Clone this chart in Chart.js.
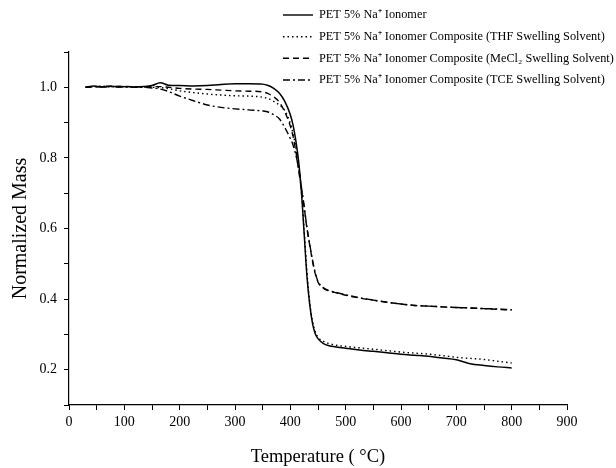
<!DOCTYPE html>
<html>
<head>
<meta charset="utf-8">
<script src="https://cdn.jsdelivr.net/npm/chart.js@4.4.1/dist/chart.umd.min.js"></script>
<style>
html,body{margin:0;padding:0;background:#fff;}
#wrap{width:616px;height:468px;}
</style>
</head>
<body>
<div id="wrap"><canvas id="c" width="616" height="468"></canvas></div>
<script>
const temperatures = [30, 45, 60, 75, 90, 105, 120, 135, 150, 165, 180, 200, 225, 250, 275, 300, 325, 350, 360, 370, 380, 390, 400, 405, 410, 415, 420, 425, 430, 435, 440, 445, 450, 460, 470, 480, 500, 525, 550, 575, 600, 625, 650, 675, 700, 725, 750, 775, 800];

const massIonomer = [1.000, 1.004, 1.001, 1.003, 1.001, 1.002, 1.001, 1.002, 1.005, 1.013, 1.006, 1.005, 1.004, 1.005, 1.008, 1.010, 1.010, 1.009, 1.005, 0.997, 0.984, 0.960, 0.922, 0.892, 0.848, 0.790, 0.705, 0.585, 0.465, 0.385, 0.332, 0.302, 0.288, 0.274, 0.268, 0.265, 0.261, 0.256, 0.252, 0.248, 0.244, 0.241, 0.238, 0.233, 0.228, 0.217, 0.212, 0.208, 0.205];

const massTHF = [1.000, 1.002, 1.003, 1.001, 1.002, 1.001, 1.002, 1.001, 1.000, 0.999, 0.996, 0.990, 0.985, 0.981, 0.978, 0.976, 0.975, 0.972, 0.968, 0.960, 0.950, 0.934, 0.898, 0.868, 0.830, 0.778, 0.705, 0.595, 0.478, 0.392, 0.338, 0.308, 0.292, 0.280, 0.274, 0.270, 0.266, 0.262, 0.258, 0.254, 0.250, 0.247, 0.244, 0.240, 0.235, 0.232, 0.229, 0.224, 0.219];

const massMeCl2 = [1.000, 1.001, 1.002, 1.003, 1.001, 1.002, 1.002, 1.001, 1.002, 1.002, 1.000, 0.997, 0.995, 0.994, 0.992, 0.990, 0.989, 0.987, 0.982, 0.973, 0.958, 0.930, 0.890, 0.860, 0.818, 0.765, 0.712, 0.660, 0.600, 0.553, 0.508, 0.472, 0.448, 0.430, 0.423, 0.419, 0.411, 0.403, 0.397, 0.391, 0.386, 0.382, 0.380, 0.378, 0.376, 0.375, 0.373, 0.371, 0.369];

const massTCE = [1.000, 1.002, 1.001, 1.002, 1.003, 1.001, 1.000, 1.000, 0.998, 0.995, 0.988, 0.975, 0.962, 0.950, 0.943, 0.939, 0.936, 0.933, 0.930, 0.922, 0.911, 0.886, 0.855, 0.836, 0.808, 0.770, 0.718, 0.663, 0.603, 0.556, 0.511, 0.475, 0.450, 0.432, 0.424, 0.420, 0.412, 0.404, 0.397, 0.391, 0.386, 0.382, 0.380, 0.378, 0.376, 0.375, 0.373, 0.372, 0.370];

const seriesLabels = [
  'PET 5% Na\u207A Ionomer',
  'PET 5% Na\u207A Ionomer Composite (THF Swelling Solvent)',
  'PET 5% Na\u207A Ionomer Composite (MeCl\u2082 Swelling Solvent)',
  'PET 5% Na\u207A Ionomer Composite (TCE Swelling Solvent)'
];

const xTickLabels = [0, 100, 200, 300, 400, 500, 600, 700, 800, 900];
const yTickLabels = [0.2, 0.4, 0.6, 0.8, 1.0];

const serif = "'Liberation Serif','Times New Roman',serif";

function pts(arr){ return temperatures.map((t,i)=>({x:t,y:arr[i]})); }

const dashes = [[], [1.5, 3], [6, 4], [7, 3, 2, 3]];
const seriesData = [massIonomer, massTHF, massMeCl2, massTCE];

const datasets = seriesData.map((d,i)=>({
  label: seriesLabels[i],
  data: pts(d),
  borderColor: '#000',
  borderWidth: i===0 ? 1.5 : 1.4,
  borderDash: dashes[i],
  pointRadius: 0,
  fill: false,
  cubicInterpolationMode: 'monotone'
}));

const legendPlugin = {
  id: 'customLegend',
  afterDraw(chart){
    const ctx = chart.ctx;
    const rows = [15, 36.7, 58.3, 80];
    ctx.save();
    chart.data.datasets.forEach((ds,i)=>{
      const y = rows[i];
      ctx.beginPath();
      ctx.setLineDash(ds.borderDash || []);
      ctx.lineWidth = 1.4;
      ctx.strokeStyle = '#000';
      ctx.moveTo(283, y);
      ctx.lineTo(313, y);
      ctx.stroke();
      ctx.setLineDash([]);
      ctx.fillStyle = '#000';
      ctx.font = "12.3px " + serif;
      ctx.textBaseline = 'middle';
      ctx.textAlign = 'left';
      ctx.fillText(ds.label, 319, y);
    });
    ctx.restore();
  }
};

new Chart(document.getElementById('c'), {
  type: 'line',
  data: { datasets },
  options: {
    responsive: false,
    animation: false,
    devicePixelRatio: 1,
    layout: { padding: { top: 52, right: 49, left: 0, bottom: 0 } },
    plugins: { legend: { display: false }, tooltip: { enabled: false } },
    scales: {
      x: {
        type: 'linear',
        min: 0, max: 900,
        afterFit(s){ s.height = 63; },
        border: { display: true, color: '#000', width: 1.2 },
        grid: { drawOnChartArea: false, drawTicks: true, tickLength: 5, tickColor: '#000', tickWidth: 1 },
        ticks: {
          stepSize: 50,
          color: '#000',
          padding: 4,
          maxRotation: 0,
          autoSkip: false,
          font: { family: serif, size: 14 },
          callback(v){ return xTickLabels.includes(v) ? String(v) : ''; }
        },
        title: { display: true, text: 'Temperature ( \u00B0C)', color: '#000', font: { family: serif, size: 18.5 }, padding: { top: 0, bottom: 0 } }
      },
      y: {
        type: 'linear',
        min: 0.1, max: 1.1,
        afterFit(s){ s.width = 69; },
        border: { display: true, color: '#000', width: 1.2 },
        grid: { drawOnChartArea: false, drawTicks: true, tickLength: 5, tickColor: '#000', tickWidth: 1 },
        ticks: {
          stepSize: 0.1,
          color: '#000',
          padding: 7,
          autoSkip: false,
          font: { family: serif, size: 14 },
          callback(v){
            const r = Math.round(v*10)/10;
            return yTickLabels.some(t=>Math.abs(t-r)<1e-6) ? r.toFixed(1) : '';
          }
        },
        title: { display: true, text: 'Normalized Mass', color: '#000', font: { family: serif, size: 20 }, padding: { top: 9, bottom: 2 } }
      }
    }
  },
  plugins: [legendPlugin]
});
</script>
</body>
</html>
